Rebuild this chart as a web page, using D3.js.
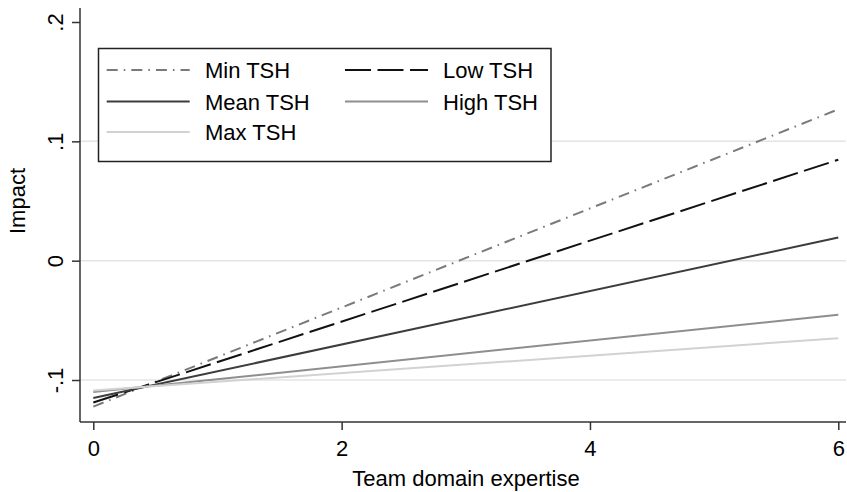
<!DOCTYPE html>
<html>
<head>
<meta charset="utf-8">
<script src="https://cdn.jsdelivr.net/npm/d3@7"></script>
<style>
  html, body { margin: 0; padding: 0; background: #fff; }
  svg { display: block; font-family: "Liberation Sans", Arial, Helvetica, sans-serif; }
</style>
</head>
<body>
<svg id="chart" width="847" height="492"></svg>
<script>
// Predicted impact at the two ends of team domain expertise (0 and 6)
const seriesNames = ["Min TSH", "Low TSH", "Mean TSH", "High TSH", "Max TSH"];
const expertise = [0, 6];
const minTSH  = [-0.1223, 0.1268];
const lowTSH  = [-0.1189, 0.0846];
const meanTSH = [-0.1151, 0.0194];
const highTSH = [-0.1101, -0.0454];
const maxTSH  = [-0.1088, -0.0650];
const xTicks = [0, 2, 4, 6];
const yTicks = [-0.1, 0, 0.1, 0.2];
const yTickLabels = ["-.1", "0", ".1", ".2"];
const gridTicks = [-0.1, 0, 0.1];

const seriesValues = [minTSH, lowTSH, meanTSH, highTSH, maxTSH];
const styles = [
  { color: "#7a7a7a", dash: "11,6,1.6,6" },
  { color: "#111111", dash: "26,6.5" },
  { color: "#3c3c3c", dash: null },
  { color: "#8e8e8e", dash: null },
  { color: "#d2d2d2", dash: null }
];

const FONT = 22;
const svg = d3.select("#chart");
const plot = { left: 80, right: 846, top: 8, bottom: 422 };

const x = d3.scaleLinear().domain([0, 6]).range([93.3, 838.3]);
const y = d3.scaleLinear().domain([-0.1, 0.2]).range([380, 22]);

// grid lines
svg.append("g").selectAll("line").data(gridTicks).join("line")
  .attr("x1", plot.left).attr("x2", plot.right)
  .attr("y1", d => y(d)).attr("y2", d => y(d))
  .attr("stroke", "#e4e4e4").attr("stroke-width", 1.5);

// series lines
const line = d3.line().x(d => x(d[0])).y(d => y(d[1]));
seriesValues.forEach((vals, i) => {
  const pts = expertise.map((e, j) => [e, vals[j]]);
  svg.append("path").datum(pts)
    .attr("d", line)
    .attr("fill", "none")
    .attr("stroke", styles[i].color)
    .attr("stroke-width", 2)
    .attr("stroke-dasharray", styles[i].dash);
});

// x axis
const xAxis = svg.append("g").attr("transform", `translate(0,${plot.bottom})`)
  .call(d3.axisBottom(x).tickValues(xTicks).tickSize(8).tickPadding(10).tickFormat(d3.format("d")));
xAxis.select(".domain").remove();
xAxis.append("line").attr("x1", plot.left).attr("x2", plot.right)
  .attr("stroke", "#333").attr("stroke-width", 1.5);
xAxis.selectAll(".tick line").attr("stroke", "#333").attr("stroke-width", 1.5);
xAxis.selectAll(".tick text").attr("font-size", FONT).attr("fill", "#000")
  .attr("font-family", "Liberation Sans, Arial, sans-serif");

// y axis
const yAxis = svg.append("g").attr("transform", `translate(${plot.left},0)`)
  .call(d3.axisLeft(y).tickValues(yTicks).tickSize(8).tickFormat((d, i) => yTickLabels[i]));
yAxis.select(".domain").remove();
yAxis.append("line").attr("y1", plot.top).attr("y2", plot.bottom)
  .attr("stroke", "#333").attr("stroke-width", 1.5);
yAxis.selectAll(".tick line").attr("stroke", "#333").attr("stroke-width", 1.5);
yAxis.selectAll(".tick text")
  .attr("font-size", FONT).attr("fill", "#000")
  .attr("font-family", "Liberation Sans, Arial, sans-serif")
  .attr("x", null).attr("dy", null)
  .attr("text-anchor", "middle")
  .attr("transform", "translate(-17,0) rotate(-90)");

// axis titles
svg.append("text").attr("x", 466).attr("y", 486)
  .attr("text-anchor", "middle").attr("font-size", FONT).text("Team domain expertise");
svg.append("text").attr("transform", "translate(25,201) rotate(-90)")
  .attr("text-anchor", "middle").attr("font-size", FONT).text("Impact");

// legend
const legend = svg.append("g");
legend.append("rect").attr("x", 98.5).attr("y", 48.5).attr("width", 452.5).attr("height", 113)
  .attr("fill", "#fff").attr("stroke", "#222").attr("stroke-width", 1.5);
const legendPos = [
  { lx: 106.7, tx: 205, cy: 70 },
  { lx: 345,   tx: 443, cy: 70 },
  { lx: 106.7, tx: 205, cy: 101.5 },
  { lx: 345,   tx: 443, cy: 101.5 },
  { lx: 106.7, tx: 205, cy: 132 }
];
seriesNames.forEach((name, i) => {
  const p = legendPos[i];
  legend.append("line").attr("x1", p.lx).attr("x2", p.lx + 83)
    .attr("y1", p.cy).attr("y2", p.cy)
    .attr("stroke", styles[i].color).attr("stroke-width", 2)
    .attr("stroke-dasharray", styles[i].dash);
  legend.append("text").attr("x", p.tx).attr("y", p.cy + 8)
    .attr("font-size", FONT).text(name);
});
</script>
</body>
</html>
